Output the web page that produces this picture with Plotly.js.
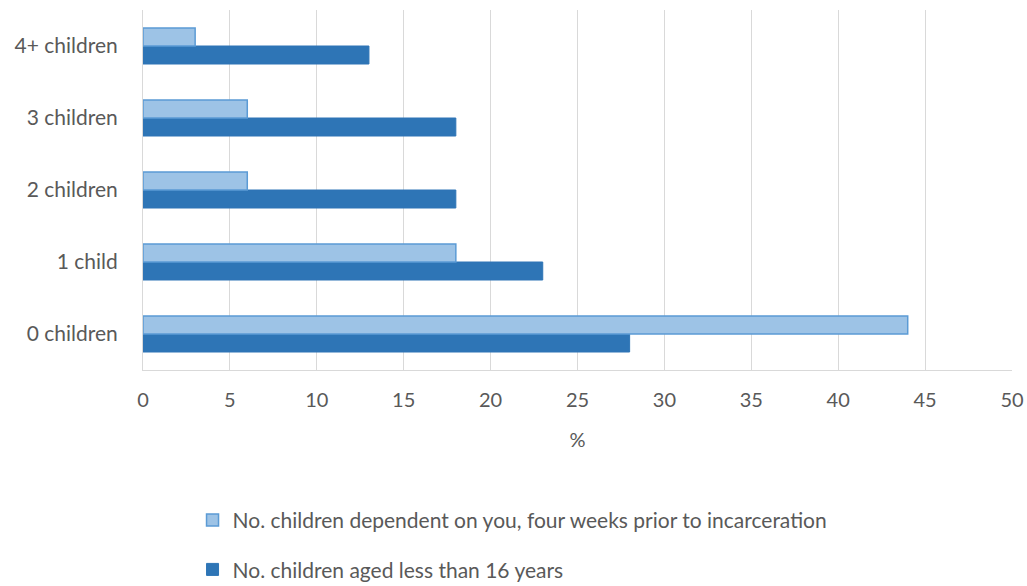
<!DOCTYPE html>
<html>
<head>
<meta charset="utf-8">
<script src="https://cdn.plot.ly/plotly-3.0.1.min.js"></script>
<style>html,body{margin:0;padding:0;background:#fff;}#chart{width:1027px;height:586px;}</style>
</head>
<body>
<div id="chart"></div>
<script>
const categories = ["0 children", "1 child", "2 children", "3 children", "4+ children"];
const dependentValues = [44, 18, 6, 6, 3];
const under16Values = [28, 23, 18, 18, 13];
const seriesNames = ["No. children dependent on you, four weeks prior to incarceration", "No. children aged less than 16 years"];
const xTicks = [0, 5, 10, 15, 20, 25, 30, 35, 40, 45, 50];

const fontFam = "Lato, 'Open Sans', sans-serif";
const traces = [
  {
    type: "bar", orientation: "h", y: categories, x: under16Values,
    name: seriesNames[1], legendrank: 2, legendgroup: "b",
    marker: {color: "#2E75B6", line: {color: "#2E75B6", width: 1}},
    hoverinfo: "x+y"
  },
  {
    type: "bar", orientation: "h", y: categories, x: dependentValues,
    name: seriesNames[0], legendrank: 1, legendgroup: "a",
    marker: {color: "#9DC3E6", line: {color: "#5B9BD5", width: 1.5}},
    hoverinfo: "x+y"
  }
];

const layout = {
  width: 1027, height: 586,
  margin: {l: 143, r: 15, t: 10, b: 216, autoexpand: false},
  paper_bgcolor: "#fff", plot_bgcolor: "#fff",
  font: {family: fontFam, size: 21, color: "#595959"},
  barmode: "group", bargap: 0.5, bargroupgap: 0,
  xaxis: {
    range: [0, 50], tickvals: xTicks, ticktext: xTicks.map(String),
    showgrid: true, gridcolor: "#D9D9D9", gridwidth: 1,
    zeroline: false, showline: true, linecolor: "#D9D9D9", linewidth: 1,
    ticks: "", ticklen: 0, automargin: false, ticklabelstandoff: 12,
    tickfont: {size: 20},
    title: {text: "%", font: {size: 20, color: "#595959"}, standoff: 22},
    fixedrange: true
  },
  yaxis: {
    categoryorder: "array", categoryarray: categories,
    showgrid: false, zeroline: false, showline: true, linecolor: "#D9D9D9", linewidth: 1,
    ticks: "", ticklabelstandoff: 20, automargin: false,
    tickfont: {size: 21},
    fixedrange: true
  },
  showlegend: true,
  legend: {
    orientation: "v", x: 0.057, xanchor: "left", y: -0.361, yanchor: "top",
    traceorder: "grouped", tracegroupgap: 19,
    font: {size: 21, color: "#595959"},
    itemwidth: 30, bgcolor: "rgba(0,0,0,0)"
  }
};

Plotly.newPlot("chart", traces, layout, {displayModeBar: false, staticPlot: true});
</script>
</body>
</html>
